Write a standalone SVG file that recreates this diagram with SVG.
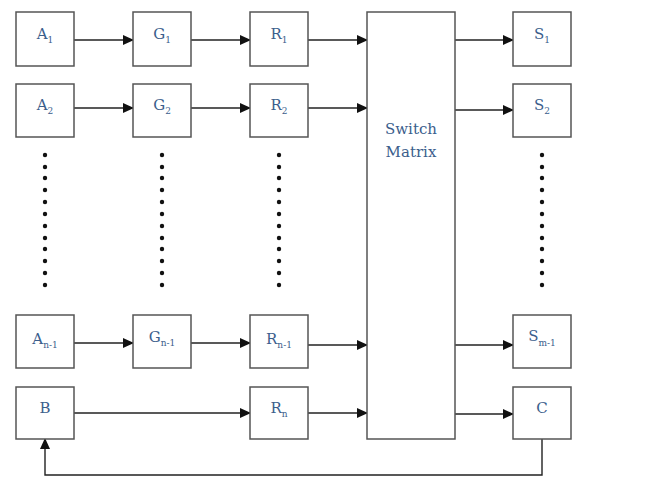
<svg xmlns="http://www.w3.org/2000/svg" width="672" height="478" viewBox="0 0 672 478">
<defs>
<marker id="ah" markerWidth="11" markerHeight="11" refX="10" refY="5.5" orient="auto" markerUnits="userSpaceOnUse">
<path d="M0,0.5 L11,5.5 L0,10.5 Z" fill="#111"/>
</marker>
<style>
.box{fill:#fff;stroke:#555;stroke-width:1.5}
.lbl{font-family:"DejaVu Serif","Liberation Serif",serif;font-size:15px;fill:#3b5e8c;text-anchor:middle}
.sub{font-size:9px}
.c{fill:none;stroke:#222;stroke-width:1.4}
.dot{fill:#111}
</style>
</defs>
<rect width="672" height="478" fill="#fff"/>
<g id="connectors">
<line class="c" x1="74" y1="40" x2="133" y2="40" marker-end="url(#ah)"/>
<line class="c" x1="191" y1="40" x2="250" y2="40" marker-end="url(#ah)"/>
<line class="c" x1="308" y1="40" x2="367" y2="40" marker-end="url(#ah)"/>
<line class="c" x1="455" y1="40" x2="513" y2="40" marker-end="url(#ah)"/>
<line class="c" x1="74" y1="108" x2="133" y2="108" marker-end="url(#ah)"/>
<line class="c" x1="191" y1="108" x2="250" y2="108" marker-end="url(#ah)"/>
<line class="c" x1="308" y1="108" x2="367" y2="108" marker-end="url(#ah)"/>
<line class="c" x1="455" y1="110" x2="513" y2="110" marker-end="url(#ah)"/>
<line class="c" x1="74" y1="343" x2="133" y2="343" marker-end="url(#ah)"/>
<line class="c" x1="191" y1="343" x2="250" y2="343" marker-end="url(#ah)"/>
<line class="c" x1="308" y1="345" x2="367" y2="345" marker-end="url(#ah)"/>
<line class="c" x1="455" y1="345" x2="513" y2="345" marker-end="url(#ah)"/>
<line class="c" x1="74" y1="413" x2="250" y2="413" marker-end="url(#ah)"/>
<line class="c" x1="308" y1="413" x2="367" y2="413" marker-end="url(#ah)"/>
<line class="c" x1="455" y1="414" x2="513" y2="414" marker-end="url(#ah)"/>
<polyline class="c" points="542,439 542,475 45,475 45,439" stroke="#666" marker-end="url(#ah)"/>
</g>
<g id="dots">
<g id="dotsA"><circle class="dot" cx="45" cy="155" r="2.2"/><circle class="dot" cx="45" cy="167" r="2.2"/><circle class="dot" cx="45" cy="178" r="2.2"/><circle class="dot" cx="45" cy="190" r="2.2"/><circle class="dot" cx="45" cy="202" r="2.2"/><circle class="dot" cx="45" cy="214" r="2.2"/><circle class="dot" cx="45" cy="226" r="2.2"/><circle class="dot" cx="45" cy="238" r="2.2"/><circle class="dot" cx="45" cy="249" r="2.2"/><circle class="dot" cx="45" cy="261" r="2.2"/><circle class="dot" cx="45" cy="273" r="2.2"/><circle class="dot" cx="45" cy="285" r="2.2"/></g>
<g id="dotsG"><circle class="dot" cx="162" cy="155" r="2.2"/><circle class="dot" cx="162" cy="167" r="2.2"/><circle class="dot" cx="162" cy="178" r="2.2"/><circle class="dot" cx="162" cy="190" r="2.2"/><circle class="dot" cx="162" cy="202" r="2.2"/><circle class="dot" cx="162" cy="214" r="2.2"/><circle class="dot" cx="162" cy="226" r="2.2"/><circle class="dot" cx="162" cy="238" r="2.2"/><circle class="dot" cx="162" cy="249" r="2.2"/><circle class="dot" cx="162" cy="261" r="2.2"/><circle class="dot" cx="162" cy="273" r="2.2"/><circle class="dot" cx="162" cy="285" r="2.2"/></g>
<g id="dotsR"><circle class="dot" cx="279" cy="155" r="2.2"/><circle class="dot" cx="279" cy="167" r="2.2"/><circle class="dot" cx="279" cy="178" r="2.2"/><circle class="dot" cx="279" cy="190" r="2.2"/><circle class="dot" cx="279" cy="202" r="2.2"/><circle class="dot" cx="279" cy="214" r="2.2"/><circle class="dot" cx="279" cy="226" r="2.2"/><circle class="dot" cx="279" cy="238" r="2.2"/><circle class="dot" cx="279" cy="249" r="2.2"/><circle class="dot" cx="279" cy="261" r="2.2"/><circle class="dot" cx="279" cy="273" r="2.2"/><circle class="dot" cx="279" cy="285" r="2.2"/></g>
<g id="dotsS"><circle class="dot" cx="542" cy="155" r="2.2"/><circle class="dot" cx="542" cy="167" r="2.2"/><circle class="dot" cx="542" cy="178" r="2.2"/><circle class="dot" cx="542" cy="190" r="2.2"/><circle class="dot" cx="542" cy="202" r="2.2"/><circle class="dot" cx="542" cy="214" r="2.2"/><circle class="dot" cx="542" cy="226" r="2.2"/><circle class="dot" cx="542" cy="238" r="2.2"/><circle class="dot" cx="542" cy="249" r="2.2"/><circle class="dot" cx="542" cy="261" r="2.2"/><circle class="dot" cx="542" cy="273" r="2.2"/><circle class="dot" cx="542" cy="285" r="2.2"/></g>
</g>
<g id="A1"><rect class="box" x="16" y="12" width="58" height="54"/><text class="lbl" x="45" y="39">A<tspan class="sub" dy="4">1</tspan></text></g>
<g id="G1"><rect class="box" x="133" y="12" width="58" height="54"/><text class="lbl" x="162" y="39">G<tspan class="sub" dy="4">1</tspan></text></g>
<g id="R1"><rect class="box" x="250" y="12" width="58" height="54"/><text class="lbl" x="279" y="39">R<tspan class="sub" dy="4">1</tspan></text></g>
<g id="A2"><rect class="box" x="16" y="84" width="58" height="53"/><text class="lbl" x="45" y="110">A<tspan class="sub" dy="4">2</tspan></text></g>
<g id="G2"><rect class="box" x="133" y="84" width="58" height="53"/><text class="lbl" x="162" y="110">G<tspan class="sub" dy="4">2</tspan></text></g>
<g id="R2"><rect class="box" x="250" y="84" width="58" height="53"/><text class="lbl" x="279" y="110">R<tspan class="sub" dy="4">2</tspan></text></g>
<g id="An1"><rect class="box" x="16" y="315" width="58" height="53"/><text class="lbl" x="45" y="344">A<tspan class="sub" dy="4">n-1</tspan></text></g>
<g id="Gn1"><rect class="box" x="133" y="315" width="58" height="53"/><text class="lbl" x="162" y="342">G<tspan class="sub" dy="4">n-1</tspan></text></g>
<g id="Rn1"><rect class="box" x="250" y="315" width="58" height="53"/><text class="lbl" x="279" y="344">R<tspan class="sub" dy="4">n-1</tspan></text></g>
<g id="B"><rect class="box" x="16" y="387" width="58" height="52"/><text class="lbl" x="45" y="413">B</text></g>
<g id="Rn"><rect class="box" x="250" y="387" width="58" height="52"/><text class="lbl" x="279" y="413">R<tspan class="sub" dy="4">n</tspan></text></g>
<g id="SwitchMatrix"><rect class="box" x="367" y="12" width="88" height="427"/><text class="lbl" x="411" y="134">Switch</text><text class="lbl" x="411" y="157">Matrix</text></g>
<g id="S1"><rect class="box" x="513" y="12" width="58" height="54"/><text class="lbl" x="542" y="39">S<tspan class="sub" dy="4">1</tspan></text></g>
<g id="S2"><rect class="box" x="513" y="84" width="58" height="53"/><text class="lbl" x="542" y="110">S<tspan class="sub" dy="4">2</tspan></text></g>
<g id="Sm1"><rect class="box" x="513" y="315" width="58" height="53"/><text class="lbl" x="542" y="341">S<tspan class="sub" dy="5">m-1</tspan></text></g>
<g id="C"><rect class="box" x="513" y="387" width="58" height="52"/><text class="lbl" x="542" y="413">C</text></g>
</svg>
